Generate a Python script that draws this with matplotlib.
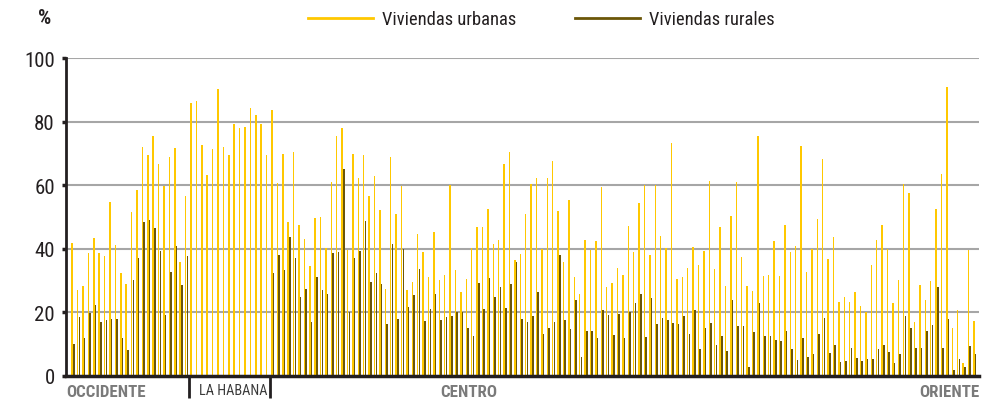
import numpy as np
import matplotlib
matplotlib.use('Agg')
import matplotlib.pyplot as plt
from matplotlib import font_manager
from matplotlib.lines import Line2D

# pick a narrow font if one is around, otherwise shrink DejaVu
names = {f.name: f for f in font_manager.fontManager.ttflist}
stretches = {(f.name, f.stretch) for f in font_manager.fontManager.ttflist}
FAMILY, STRETCH, SCALE = 'DejaVu Sans', 'normal', 0.78
for fam in ['Liberation Sans Narrow', 'Roboto Condensed', 'Open Sans Condensed',
            'Noto Sans Condensed']:
    if fam in names:
        FAMILY, STRETCH, SCALE = fam, 'normal', 1.0
        break
else:
    for (nm, st) in stretches:
        if nm in ('DejaVu Sans', 'Noto Sans', 'Open Sans', 'Roboto') and \
                st in ('condensed', 'semi-condensed', 'extra-condensed', 75, 87):
            FAMILY, STRETCH, SCALE = nm, st, 0.95
            break

plt.rcParams['font.family'] = [FAMILY, 'DejaVu Sans']
plt.rcParams['font.stretch'] = STRETCH

# ── Data: % of dwellings per municipality (168), west to east ─────────
REGIONS = ['OCCIDENTE', 'LA HABANA', 'CENTRO', 'ORIENTE']
N_OCC = 22
N_HAB = 15

urbanas = [
    # occidente
    41.9, 27.1, 28.3, 38.8, 43.3, 38.8, 37.7, 54.8, 41.1, 32.5, 28.9,
    51.6, 58.5, 72.1, 69.4, 75.5, 66.7, 59.6, 69.0, 71.6, 35.7, 56.6,
    # la habana
    85.7, 86.5, 72.6, 63.3, 71.5, 90.4, 72.0, 69.5, 79.4, 77.9, 78.2,
    84.4, 82.1, 79.2, 69.6,
    # centro + oriente
    83.5, 60.7, 69.8, 48.3, 70.5, 47.5, 43.0, 34.6, 49.8, 49.9, 40.4,
    61.1, 75.4, 77.9, 39.6, 69.7, 62.4, 69.6, 56.7, 62.9, 52.1, 27.5,
    68.9, 50.9, 59.6, 26.9, 29.6, 44.7, 39.1, 31.1, 45.2, 30.2, 31.9,
    60.1, 33.3, 26.4, 30.5, 40.4, 46.7, 47.0, 52.6, 41.4, 42.7, 66.8,
    70.5, 36.5, 38.5, 51.0, 60.3, 62.4, 40.0, 62.4, 67.7, 52.0, 36.0,
    55.3, 31.1, 25.7, 42.7, 39.6, 42.4, 59.4, 28.1, 29.4, 34.1, 31.8,
    47.2, 39.1, 54.3, 60.1, 38.0, 60.2, 44.1, 40.3, 73.4, 30.6, 31.1,
    34.0, 40.7, 34.9, 39.2, 61.2, 33.6, 47.0, 28.2, 50.3, 61.0, 37.4,
    28.3, 26.6, 75.4, 31.5, 31.8, 42.5, 31.4, 47.4, 39.1, 41.0, 72.4,
    32.7, 40.0, 49.3, 68.3, 36.8, 43.6, 23.2, 25.0, 23.2, 26.4, 22.1,
    20.2, 34.8, 42.7, 47.4, 39.8, 23.1, 30.2, 60.4, 57.7, 17.0, 28.6,
    24.0, 29.9, 52.4, 63.5, 90.8, 15.0, 20.8, 4.0, 39.7, 17.4,
]

rurales = [
    # occidente
    10.2, 18.6, 11.9, 19.9, 22.4, 16.9, 17.6, 17.8, 17.8, 11.9, 8.3,
    30.2, 37.1, 48.3, 49.2, 46.5, 39.4, 19.1, 32.7, 41.0, 28.6, 37.7,
    # la habana (no rural dwellings)
    np.nan, np.nan, np.nan, np.nan, np.nan, np.nan, np.nan, np.nan,
    np.nan, np.nan, np.nan, np.nan, np.nan, np.nan, np.nan,
    # centro + oriente
    32.3, 38.1, 33.4, 43.6, 37.1, 25.0, 27.4, 17.0, 31.0, 27.1, 25.8,
    38.8, 39.0, 65.2, 20.0, 37.1, 39.4, 48.6, 29.5, 32.3, 28.9, 16.5,
    41.5, 17.8, 39.9, 21.8, 25.5, 33.6, 17.3, 21.1, 25.7, 17.7, 18.4,
    19.0, 20.1, 20.2, 15.0, 12.5, 29.4, 21.2, 30.8, 24.8, 28.0, 21.5,
    28.8, 36.0, 17.9, 17.1, 18.9, 26.4, 13.3, 15.0, 17.1, 37.9, 17.7,
    14.8, 23.8, 6.1, 14.0, 14.0, 12.1, 20.6, 19.1, 13.0, 19.6, 11.9,
    20.2, 22.8, 25.9, 12.2, 24.6, 16.5, 18.1, 17.7, 16.7, 16.2, 19.0,
    13.3, 20.6, 8.5, 15.2, 16.7, 9.9, 12.7, 8.0, 24.0, 15.7, 15.8,
    2.7, 13.8, 23.0, 12.7, 12.7, 11.4, 11.0, 14.1, 8.6, 5.1, 11.8,
    6.1, 6.9, 13.3, 18.2, 7.1, 9.6, 4.4, 4.6, 8.8, 5.7, 4.6,
    5.2, 5.3, 8.6, 9.8, 7.4, 4.1, 7.0, 18.9, 15.2, 8.8, 8.8,
    14.1, 16.1, 27.9, 8.8, 17.8, 2.0, 5.5, 2.9, 9.4, 6.8,
]

assert len(urbanas) == len(rurales) == 168

URB_COLOR = '#FFC800'
RUR_COLOR = '#6B5608'
GRID = '#A6A6A6'
DARK = '#231F20'
GREY_LBL = '#7A7A7A'

def fs(v):
    return v * SCALE

# ── Figure ────────────────────────────────────────────────────────────
fig = plt.figure(figsize=(9.98, 4.02), dpi=100)
ax = fig.add_axes([0.0661, 0.0622, 0.9149, 0.791])

x = np.arange(len(urbanas))
ax.bar(x - 0.16, urbanas, width=0.28, color=URB_COLOR, linewidth=0,
       antialiased=False, zorder=3)
ax.bar(x + 0.16, rurales, width=0.28, color=RUR_COLOR, linewidth=0,
       antialiased=False, zorder=3)

ax.set_xlim(-1.31, 167.8)
ax.set_ylim(0, 100)
ax.set_yticks(np.arange(0, 101, 20))
ax.set_xticks([])
ax.yaxis.grid(True, color=GRID, lw=1.5, zorder=0)
ax.tick_params(axis='y', length=3, width=2.5, color=DARK, labelsize=fs(15),
               labelcolor=DARK, pad=5)
for s in ['top', 'right']:
    ax.spines[s].set_visible(False)
ax.spines['left'].set_color(DARK)
ax.spines['left'].set_linewidth(2)
ax.spines['bottom'].set_color(DARK)
ax.spines['bottom'].set_linewidth(2.5)
ax.spines['bottom'].set_zorder(4)

# region separators below the axis
trans = ax.get_xaxis_transform()
for sep in [N_OCC - 0.5, N_OCC + N_HAB - 0.5]:
    ax.plot([sep, sep], [0, -0.068], transform=trans, color=DARK, lw=2,
            clip_on=False, solid_capstyle='butt')

ax.text(-1.31, -0.05, REGIONS[0], transform=trans, ha='left', va='center',
        fontsize=fs(12.2), fontweight='bold', color=GREY_LBL)
ax.text(N_OCC + 1.3, -0.045, REGIONS[1], transform=trans, ha='left',
        va='center', fontsize=fs(10.3), color='#3A3A3A')
ax.text(73.2, -0.05, REGIONS[2], transform=trans, ha='center', va='center',
        fontsize=fs(12.2), fontweight='bold', color=GREY_LBL)
ax.text(167.8, -0.05, REGIONS[3], transform=trans, ha='right', va='center',
        fontsize=fs(12.2), fontweight='bold', color=GREY_LBL)

fig.text(0.045, 0.955, '%', ha='center', va='center', fontsize=fs(15),
         fontweight='bold', color=DARK)

handles = [Line2D([], [], color=URB_COLOR, lw=2),
           Line2D([], [], color=RUR_COLOR, lw=2)]
fig.legend(handles, ['Viviendas urbanas', 'Viviendas rurales'],
           loc='center', bbox_to_anchor=(0.5426, 0.95), ncol=2,
           frameon=False, fontsize=fs(13.3), handlelength=3.5 / SCALE,
           handletextpad=0.5 / SCALE, columnspacing=3.2 / SCALE,
           labelcolor=DARK)

fig.savefig('out.png', dpi=100)
